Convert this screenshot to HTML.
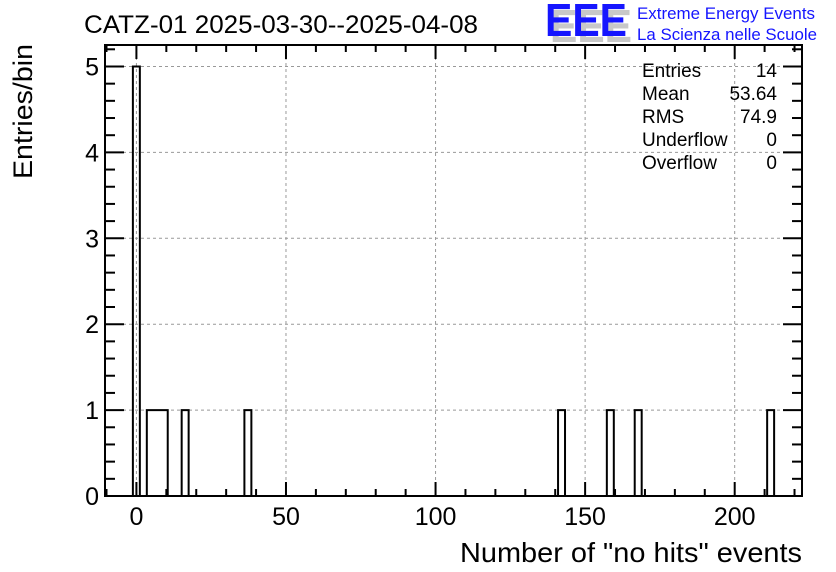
<!DOCTYPE html>
<html><head><meta charset="utf-8"><style>
html,body{margin:0;padding:0;background:#fff}
svg{display:block;font-family:"Liberation Sans",sans-serif}
</style></head><body>
<svg id="chart" width="836" height="572" viewBox="0 0 836 572" xmlns="http://www.w3.org/2000/svg">
<rect width="836" height="572" fill="#fff"/>
<text x="84" y="33" font-size="25" textLength="394" lengthAdjust="spacingAndGlyphs">CATZ-01 2025-03-30--2025-04-08</text>
<g>
<text x="550" y="42" font-size="46" font-weight="bold" fill="#c8c8c8" textLength="82" lengthAdjust="spacingAndGlyphs">EEE</text>
<text x="545" y="36" font-size="46" font-weight="bold" fill="#1515ff" textLength="82" lengthAdjust="spacingAndGlyphs">EEE</text>
<text x="637" y="19" font-size="16.5" fill="#1515ff" textLength="178" lengthAdjust="spacingAndGlyphs">Extreme Energy Events</text>
<text x="637" y="40" font-size="16.5" fill="#1515ff" textLength="180" lengthAdjust="spacingAndGlyphs">La Scienza nelle Scuole</text>
</g>
<g id="grid"></g>
<g id="bars"></g>
<g id="axes"></g>
<g font-size="19">
<text x="642" y="77">Entries</text><text x="777" y="77" text-anchor="end">14</text>
<text x="642" y="100">Mean</text><text x="777" y="100" text-anchor="end">53.64</text>
<text x="642" y="123">RMS</text><text x="777" y="123" text-anchor="end">74.9</text>
<text x="642" y="146">Underflow</text><text x="777" y="146" text-anchor="end">0</text>
<text x="642" y="169">Overflow</text><text x="777" y="169" text-anchor="end">0</text>
</g>
<text transform="translate(32,179) rotate(-90)" font-size="27" textLength="135" lengthAdjust="spacingAndGlyphs">Entries/bin</text>
<text x="802" y="562" font-size="28" text-anchor="end" textLength="342" lengthAdjust="spacingAndGlyphs">Number of "no hits" events</text>
</svg>
<script>
const hitValues = [0,0,0,0,0,4,7,9,16,37,142,158,168,212];
const xTickLabels = [0,50,100,150,200];
const yTickLabels = [0,1,2,3,4,5];
const xMin = -10.5, xMax = 222.5, nBins = 100;
const yMax = 5.25;
const L=105, R=802, T=45, B=496;
const NS="http://www.w3.org/2000/svg";
const sx = v => L + (v - xMin) / (xMax - xMin) * (R - L);
const sy = v => B - v / yMax * (B - T);
function mk(tag, attrs, parent){const e=document.createElementNS(NS,tag);for(const k in attrs)e.setAttribute(k,attrs[k]);parent.appendChild(e);return e;}
const grid=document.getElementById('grid'), bars=document.getElementById('bars'), axes=document.getElementById('axes');
xTickLabels.forEach(v=>{const l=mk('line',{x1:sx(v),x2:sx(v),y1:T,y2:B,stroke:'#999','stroke-dasharray':'3,3','stroke-width':1},grid);

});
yTickLabels.forEach(v=>{const l=mk('line',{x1:L,x2:R,y1:sy(v),y2:sy(v),stroke:'#999','stroke-dasharray':'3,3','stroke-width':1},grid);

});
const bw=(xMax-xMin)/nBins;
const counts=new Array(nBins).fill(0);
hitValues.forEach(v=>{const i=Math.floor((v-xMin)/bw);if(i>=0&&i<nBins)counts[i]++;});
let d='M'+sx(xMin)+','+sy(0);
for(let i=0;i<nBins;i++){const x0=sx(xMin+i*bw),x1=sx(xMin+(i+1)*bw);d+=' L'+x0+','+sy(counts[i])+' L'+x1+','+sy(counts[i]);}
d+=' L'+sx(xMax)+','+sy(0);
const p=mk('path',{d:d,fill:'none',stroke:'#000','stroke-width':2},bars);


const f=mk('rect',{x:L,y:T,width:R-L,height:B-T,fill:'none',stroke:'#000','stroke-width':2},axes);


for(let v=-10;v<=220;v+=10){const major=v%50===0;const h=major?14:7;
mk('line',{x1:sx(v),x2:sx(v),y1:B,y2:B-h,stroke:'#000','stroke-width':2},axes);
mk('line',{x1:sx(v),x2:sx(v),y1:T,y2:T+h,stroke:'#000','stroke-width':2},axes);}
xTickLabels.forEach(v=>{const t=mk('text',{x:sx(v),y:B+29,'font-size':25,'text-anchor':'middle'},axes);t.textContent=v;

});
for(let k=0;k<=26;k++){const v=k*0.2;if(v>yMax)break;const major=k%5===0;const h=major?19:10;
mk('line',{x1:L,x2:L+h,y1:sy(v),y2:sy(v),stroke:'#000','stroke-width':2},axes);
mk('line',{x1:R,x2:R-h,y1:sy(v),y2:sy(v),stroke:'#000','stroke-width':2},axes);}
yTickLabels.forEach(v=>{const t=mk('text',{x:L-6,y:sy(v)+9,'font-size':25,'text-anchor':'end'},axes);t.textContent=v;

});
</script>
</body></html>
